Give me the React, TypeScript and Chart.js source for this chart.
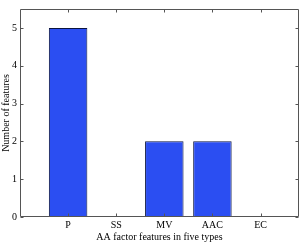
import React, { useEffect, useRef } from "react";
import { Chart, registerables } from "chart.js";

Chart.register(...registerables);

const categories = ["P", "SS", "MV", "AAC", "EC"];
const positions = [1, 2, 3, 4, 5];
const counts = [5, 0, 2, 2, 0];
const yTicks = [0, 1, 2, 3, 4, 5];

const FONT = "'Liberation Serif', 'DejaVu Serif', serif";
const FRAME = "#555555";

const framePlugin = {
  id: "mplFrame",
  afterDatasetsDraw(chart: any) {
    const { ctx, chartArea: a, scales } = chart;
    ctx.save();
    ctx.strokeStyle = FRAME;
    ctx.lineWidth = 1;
    ctx.beginPath();
    const L = Math.round(a.left) + 0.5;
    const R = Math.round(a.right) - 0.5;
    const T = Math.round(a.top) + 0.5;
    const B = Math.round(a.bottom) - 0.5;
    ctx.rect(L, T, R - L, B - T);
    const tl = 3;
    for (const v of positions) {
      const x = Math.round(scales.x.getPixelForValue(v)) + 0.5;
      ctx.moveTo(x, B);
      ctx.lineTo(x, B - tl);
      ctx.moveTo(x, T);
      ctx.lineTo(x, T + tl);
    }
    for (const v of yTicks) {
      const y = Math.round(scales.y.getPixelForValue(v)) + 0.5;
      ctx.moveTo(L, y);
      ctx.lineTo(L + tl, y);
      ctx.moveTo(R, y);
      ctx.lineTo(R - tl, y);
    }
    ctx.stroke();
    ctx.restore();
  },
};

export default function App() {
  const ref = useRef<HTMLCanvasElement | null>(null);
  useEffect(() => {
    if (!ref.current) return;
    const chart = new Chart(ref.current, {
      type: "bar",
      data: {
        datasets: [
          {
            data: positions.map((x, i) => ({ x, y: counts[i] })),
            backgroundColor: "#2b4ef2",
            borderColor: "#0a1440",
            borderWidth: 1,
            barPercentage: 0.8,
            categoryPercentage: 1.0,
          },
        ],
      },
      options: {
        animation: false,
        responsive: false,
        maintainAspectRatio: false,
        events: [],
        layout: { padding: { top: 2, right: 3, left: 0, bottom: 0 } },
        plugins: { legend: { display: false }, tooltip: { enabled: false } },
        scales: {
          x: {
            type: "linear",
            min: 0,
            max: 5.8,
            offset: false,
            grid: { display: false, drawTicks: false, offset: false },
            border: { display: false },
            afterBuildTicks(scale: any) {
              scale.ticks = positions.map((v) => ({ value: v }));
            },
            afterFit(scale: any) {
              scale.height = 26;
            },
            ticks: {
              autoSkip: false,
              maxRotation: 0,
              padding: 2,
              color: "#000",
              font: { family: FONT, size: 10 },
              callback: (v: any) => {
                const i = positions.indexOf(Number(v));
                return i >= 0 ? categories[i] : "";
              },
            },
            title: {
              display: true,
              text: "AA factor features in five types",
              color: "#000",
              font: { family: FONT, size: 10 },
              padding: 0,
            },
          },
          y: {
            min: 0,
            max: 5.5,
            grid: { display: false, drawTicks: false },
            border: { display: false },
            afterBuildTicks(scale: any) {
              scale.ticks = yTicks.map((v) => ({ value: v }));
            },
            afterFit(scale: any) {
              scale.width = 20;
            },
            ticks: {
              padding: 3,
              color: "#000",
              font: { family: FONT, size: 10 },
            },
            title: {
              display: true,
              text: "Number of features",
              color: "#000",
              font: { family: FONT, size: 10 },
              padding: 0,
            },
          },
        },
      },
      plugins: [framePlugin],
    });
    return () => chart.destroy();
  }, []);
  return (
    <div style={{ position: "fixed", left: 0, top: 0, width: 302, height: 243, background: "#fff" }}>
      <canvas ref={ref} width={302} height={243} style={{ display: "block" }} />
    </div>
  );
}
